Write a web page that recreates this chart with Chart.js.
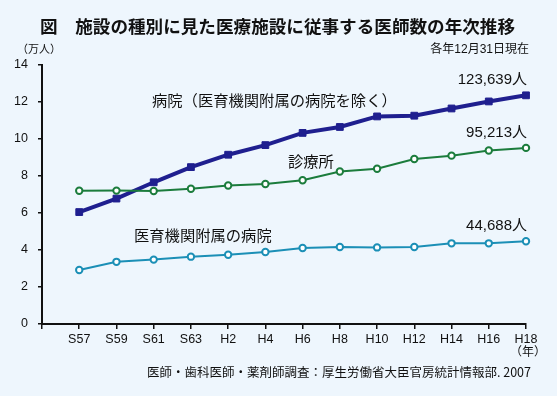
<!DOCTYPE html>
<html>
<head>
<meta charset="utf-8">
<script src="https://cdn.jsdelivr.net/npm/chart.js@4.4.0/dist/chart.umd.min.js"></script>
<style>
  html, body { margin: 0; padding: 0; background: #eef6fd; }
  canvas { display: block; }
</style>
</head>
<body>
<canvas id="chart" width="557" height="396"></canvas>
<script>
// 年（昭和・平成）
const years = ["S57", "S59", "S61", "S63", "H2", "H4", "H6", "H8", "H10", "H12", "H14", "H16", "H18"];
// 万人
const hospital = [6.05, 6.78, 7.66, 8.48, 9.15, 9.67, 10.33, 10.65, 11.22, 11.26, 11.65, 12.03, 12.36];
const clinic = [7.2, 7.21, 7.19, 7.31, 7.49, 7.57, 7.77, 8.24, 8.39, 8.92, 9.1, 9.38, 9.52];
const univ = [2.92, 3.36, 3.48, 3.64, 3.74, 3.89, 4.11, 4.16, 4.14, 4.16, 4.36, 4.36, 4.47];
const yTicks = [0, 2, 4, 6, 8, 10, 12, 14];
const seriesNames = ["病院（医育機関附属の病院を除く）", "診療所", "医育機関附属の病院"];
const endLabels = ["123,639人", "95,213人", "44,688人"];

const BG = "#eef6fd";
const NAVY = "#1f1f8f";
const GREEN = "#1b7c3c";
const CYAN = "#1b8fb6";
const SANS = "'Liberation Sans', 'Noto Sans CJK JP', sans-serif";
const JP = "'Noto Sans CJK JP', sans-serif";

const toPoints = arr => arr.map((v, i) => ({ x: i, y: v }));

// 文字の描画
const textPlugin = {
  id: "texts",
  beforeDraw(chart) {
    const ctx = chart.ctx;
    ctx.save();
    ctx.fillStyle = BG;
    ctx.fillRect(0, 0, chart.width, chart.height);
    ctx.restore();
  },
  afterDraw(chart) {
    const ctx = chart.ctx;
    const xs = chart.scales.x;
    const ys = chart.scales.y;
    const last = years.length - 1;
    ctx.save();
    ctx.fillStyle = "#111";
    ctx.textBaseline = "middle";

    ctx.font = "bold 17.6px " + JP;
    ctx.textAlign = "left";
    ctx.fillText("図　施設の種別に見た医療施設に従事する医師数の年次推移", 40, 26);

    ctx.font = "11px " + JP;
    ctx.fillText("（万人）", 17, 49);
    ctx.textAlign = "right";
    ctx.font = "12px " + SANS;
    ctx.fillText("各年12月31日現在", 529, 50);

    ctx.font = "12px " + SANS;
    ctx.fillText("（年）", 546, 353);

    ctx.font = "12.5px " + JP;
    ctx.fillText("医師・歯科医師・薬剤師調査：厚生労働省大臣官房統計情報部. 2007", 531, 372);

    // 系列名
    ctx.font = "15.3px " + SANS;
    ctx.textAlign = "left";
    ctx.fillText(seriesNames[0], 152, 102);
    ctx.fillText(seriesNames[1], 288, 163);
    ctx.fillText(seriesNames[2], 134, 237);

    // 最終値
    const series = [hospital, clinic, univ];
    ctx.font = "15px " + SANS;
    ctx.textAlign = "right";
    series.forEach((s, k) => {
      ctx.fillText(endLabels[k], xs.getPixelForValue(last) + 1, ys.getPixelForValue(s[last]) - 15);
    });
    ctx.restore();
  }
};

new Chart(document.getElementById("chart"), {
  type: "line",
  data: {
    datasets: [
      {
        label: seriesNames[2],
        data: toPoints(univ),
        borderColor: CYAN,
        borderWidth: 2,
        pointStyle: "circle",
        pointRadius: 3.2,
        pointBorderWidth: 2,
        pointBackgroundColor: "#ffffff",
        pointBorderColor: CYAN
      },
      {
        label: seriesNames[1],
        data: toPoints(clinic),
        borderColor: GREEN,
        borderWidth: 2,
        pointStyle: "circle",
        pointRadius: 3.2,
        pointBorderWidth: 2,
        pointBackgroundColor: "#ffffff",
        pointBorderColor: GREEN
      },
      {
        label: seriesNames[0],
        data: toPoints(hospital),
        borderColor: NAVY,
        borderWidth: 4,
        pointStyle: "rect",
        pointRadius: 4.8,
        pointBorderWidth: 1,
        pointBackgroundColor: NAVY,
        pointBorderColor: NAVY
      }
    ]
  },
  options: {
    responsive: false,
    animation: false,
    clip: false,
    layout: { padding: { top: 65, right: 31, left: 0, bottom: 0 } },
    plugins: { legend: { display: false }, tooltip: { enabled: false } },
    scales: {
      x: {
        type: "linear",
        min: -1,
        max: years.length - 1,
        afterFit: s => { s.height = 396 - 324; },
        afterBuildTicks: s => { s.ticks = years.map((_, i) => ({ value: i - 1 })).concat([{ value: years.length - 1 }]); },
        border: { display: true, color: "#111", width: 2 },
        grid: { drawOnChartArea: false, drawTicks: true, tickLength: 5, color: "#111", lineWidth: 1.5 },
        ticks: {
          autoSkip: false,
          maxRotation: 0,
          padding: 3,
          color: "#111",
          font: { family: SANS, size: 12.5 },
          callback: v => (v >= 0 ? years[v] : "")
        }
      },
      y: {
        min: 0,
        max: 14,
        afterFit: s => { s.width = 42; },
        afterBuildTicks: s => { s.ticks = yTicks.map(v => ({ value: v })); },
        border: { display: true, color: "#111", width: 2 },
        grid: { drawOnChartArea: false, drawTicks: true, tickLength: 4, color: "#111", lineWidth: 1.5 },
        ticks: {
          padding: 10,
          color: "#111",
          font: { family: SANS, size: 12.5 }
        }
      }
    }
  },
  plugins: [textPlugin]
});
</script>
</body>
</html>
